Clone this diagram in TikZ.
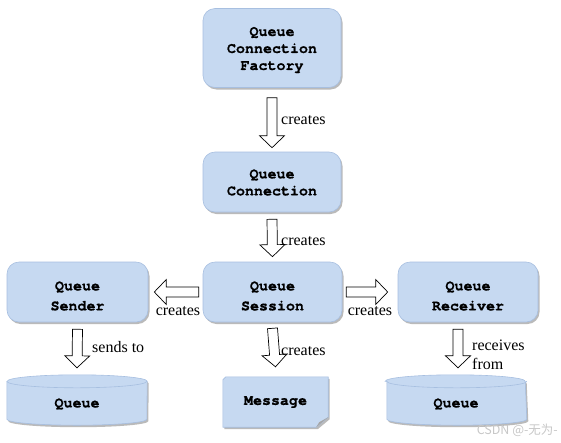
\documentclass[tikz,border=0pt]{standalone}
\usepackage{fontspec}
\setmainfont{Liberation Serif}
\setmonofont{texgyrecursor-regular.otf}[BoldFont=texgyrecursor-bold.otf, BoldFeatures={FakeBold=0.8}]
\newfontfamily\cjk{Noto Sans CJK SC}
\usetikzlibrary{calc,shadows}
\pgfdeclarelayer{background}
\pgfsetlayers{background,main}
\definecolor{boxblue}{HTML}{C6D9F1}
\definecolor{boxedge}{HTML}{A7BFE0}
\tikzset{
  x=1pt, y=-1pt,
  shadowed/.style={drop shadow={shadow xshift=1.5pt, shadow yshift=-2pt, fill=black!45, opacity=0.6}},
  entity/.style={shadowed, rounded corners=12pt, fill=boxblue, draw=boxedge, line width=0.6pt, inner sep=0pt},
  plain/.style={font=\ttfamily\bfseries\fontsize{15}{17}\selectfont, align=center, inner sep=0pt},
  wide/.style={plain, font=\ttfamily\bfseries\fontsize{15}{20}\selectfont},
  body/.style={shadowed, fill=boxblue, draw=boxedge, line width=0.6pt},
  blockarr/.style={draw=black, fill=white, line width=0.7pt, line join=miter},
  lbl/.style={font=\fontsize{16}{18}\selectfont, inner sep=0pt}
}
\newcommand\blockarrow[2]{%
  \coordinate (tmpH) at ($(#2)!12pt!(#1)$);
  \draw[blockarr] ($(#1)!5pt!90:(#2)$) -- ($(tmpH)!5pt!90:(#2)$) -- ($(tmpH)!12.5pt!90:(#2)$)
    -- (#2) -- ($(tmpH)!12.5pt!-90:(#2)$) -- ($(tmpH)!5pt!-90:(#2)$) -- ($(#1)!5pt!-90:(#2)$) -- cycle;
}
\begin{document}
\begin{tikzpicture}
\useasboundingbox (0,0) rectangle (561,442);
% boxes
\node[entity, minimum width=138, minimum height=79] (fac) at (272,48) {};
\node[plain] (fact) at ([yshift=-2pt]fac.center) {Queue\\Connection\\Factory};
\node[entity, minimum width=138, minimum height=60] (con) at (272,182) {};
\node[plain] (cont) at ([yshift=-0.5pt]con.center) {Queue\\Connection};
\node[entity, minimum width=139, minimum height=60] (ses) at (272.5,292) {};
\node[wide] (sest) at ([yshift=-4pt]ses.center) {Queue\\Session};
\node[entity, minimum width=141, minimum height=60] (snd) at (77.5,292) {};
\node[wide] (sndt) at ([yshift=-4pt]snd.center) {Queue\\Sender};
\node[entity, minimum width=140, minimum height=60] (rcv) at (468,292) {};
\node[wide] (rcvt) at ([yshift=-4pt]rcv.center) {Queue\\Receiver};
% queues and message
\node[plain, minimum width=140, minimum height=50] (q1) at (77,400) {};
\node[plain] (q1t) at ([yshift=-4pt]q1.center) {Queue};
\node[plain, minimum width=138, minimum height=50] (q2) at (456,400) {};
\node[plain] (q2t) at ([yshift=-4pt]q2.center) {Queue};
\node[plain, minimum width=105, minimum height=50] (msg) at (275.5,402) {Message};
\begin{pgfonlayer}{background}
  \foreach \q in {q1,q2}{
    \path[body] ([yshift=-6.5pt]\q.north west) -- ([yshift=6pt]\q.south west)
      arc[start angle=180, end angle=360, x radius=70pt, y radius=6pt]
      -- ([yshift=-6.5pt]\q.north east)
      arc[start angle=0, end angle=180, x radius=70pt, y radius=6.5pt] -- cycle;
    \draw[boxedge, line width=0.6pt] ([yshift=-6.5pt]\q.north west)
      arc[start angle=180, end angle=360, x radius=70pt, y radius=6.5pt];
  }
  \path[body] ([xshift=3pt]msg.north west) -- (msg.north east) -- ([yshift=10pt]msg.south east)
    -- ([xshift=-12pt]msg.south east) -- (msg.south west) -- ([yshift=-3pt]msg.north west) -- cycle;
  \fill[black!35] ([yshift=10pt]msg.south east) -- ([xshift=-12pt]msg.south east) -- ([xshift=-9pt,yshift=5pt]msg.south east) -- cycle;
\end{pgfonlayer}
% arrow end points
\coordinate (a1s) at ([yshift=-10pt]fac.south);
\coordinate (a1e) at ([yshift=4pt]con.north);
\coordinate (a2s) at ([yshift=-7pt]con.south);
\coordinate (a2e) at ([yshift=5pt]ses.north);
\coordinate (a3s) at ([xshift=-4pt]ses.west);
\coordinate (a3e) at ([xshift=6pt]snd.east);
\coordinate (a4s) at ([xshift=4pt]ses.east);
\coordinate (a4e) at ([xshift=-10pt]rcv.west);
\coordinate (a5s) at ([yshift=-7pt]snd.south);
\coordinate (a5e) at ([yshift=7pt]q1.north);
\coordinate (a6s) at ([yshift=-6pt]ses.south);
\coordinate (a6e) at ([yshift=10pt]msg.north);
\coordinate (a7s) at ([xshift=-10pt,yshift=-7pt]rcv.south);
\coordinate (a7e) at ([xshift=2pt,yshift=7pt]q2.north);
\blockarrow{a1s}{a1e}
\blockarrow{a2s}{a2e}
\blockarrow{a3s}{a3e}
\blockarrow{a4s}{a4e}
\blockarrow{a5s}{a5e}
\blockarrow{a6s}{a6e}
\blockarrow{a7s}{a7e}
% labels
\node[lbl, anchor=west] (l1) at (281,120) {creates};
\node[lbl, anchor=west] (l2) at (281,241) {creates};
\node[lbl] (l3) at (178,311) {creates};
\node[lbl] (l4) at (370,311) {creates};
\node[lbl, anchor=west] (l5) at (92,347) {sends to};
\node[lbl, anchor=west] (l6) at (281,351) {creates};
\node[lbl, anchor=west, align=left, font=\fontsize{16}{19.5}\selectfont] (l7) at (472,355) {receives\\from};
\node[anchor=east, inner sep=0pt, text=black!22, font=\cjk\fontsize{12.5}{14}\selectfont] (wm) at (558,430) {CSDN @-无为-};
\end{tikzpicture}
\end{document}
